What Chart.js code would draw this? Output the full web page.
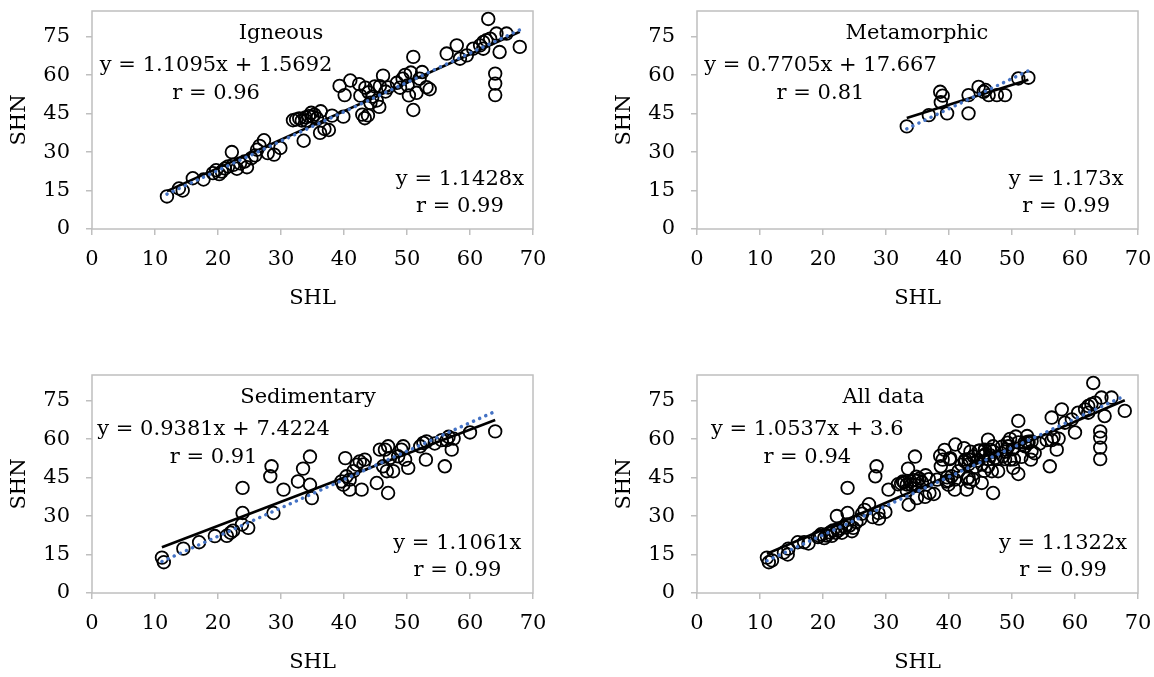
<!DOCTYPE html>
<html>
<head>
<meta charset="utf-8">
<script src="https://cdn.jsdelivr.net/npm/chart.js@4.4.0/dist/chart.umd.min.js"></script>
<style>
  body { margin: 0; background: #fff; width: 1154px; height: 677px; position: relative; overflow: hidden; }
  .panel { position: absolute; width: 549px; height: 313px; }
</style>
</head>
<body>
<div class="panel" style="left:0;top:0"><canvas id="g1" width="549" height="313"></canvas></div>
<div class="panel" style="left:605px;top:0"><canvas id="g2" width="549" height="313"></canvas></div>
<div class="panel" style="left:0;top:364px"><canvas id="g3" width="549" height="313"></canvas></div>
<div class="panel" style="left:605px;top:364px"><canvas id="g4" width="549" height="313"></canvas></div>
<script>
// SHL / SHN readings per rock type
const igneousSHL = [11.9, 13.8, 14.4, 16.0, 17.7, 19.2, 19.7, 20.2, 20.6, 21.1, 21.6, 22.2, 22.4, 23.0, 23.5, 24.2, 24.6, 25.3, 25.9, 26.2,
    26.6, 27.3, 27.9, 28.9, 29.9, 31.9, 32.4, 32.9, 33.3, 33.6, 33.9, 34.0, 34.4, 34.8, 35.0, 35.3, 35.7, 36.3, 36.2, 36.9,
    37.6, 38.1, 39.9, 39.3, 40.1, 41.0, 42.4, 42.6, 42.9, 43.3, 43.8, 43.4, 43.9, 44.2, 44.5, 44.9, 45.2, 45.6, 45.7, 46.2,
    46.6, 47.0, 48.4, 48.9, 49.3, 49.7, 50.1, 50.3, 50.6, 51.0, 51.0, 51.5, 52.0, 52.4, 53.1, 53.6, 56.3, 57.9, 58.4, 59.5,
    60.5, 61.6, 62.1, 62.6, 63.2, 62.1, 62.9, 64.2, 65.8, 64.7, 67.9, 64.0, 64.0, 64.0];
const igneousSHN = [12.7, 15.8, 15.0, 19.8, 19.3, 21.8, 22.9, 21.4, 22.4, 23.6, 24.4, 30.0, 25.0, 23.5, 25.6, 26.3, 24.1, 27.6, 28.7, 30.9,
    32.4, 34.6, 29.6, 29.0, 31.6, 42.4, 42.7, 43.1, 42.3, 34.4, 43.5, 42.2, 44.0, 45.3, 43.8, 44.6, 43.1, 45.9, 37.5, 39.0,
    38.6, 44.2, 43.8, 55.8, 52.2, 57.9, 56.5, 52.0, 44.6, 43.2, 44.3, 55.1, 53.3, 49.2, 51.6, 55.6, 50.1, 47.6, 55.7, 59.8,
    53.6, 55.2, 57.0, 55.1, 58.6, 60.1, 56.0, 52.1, 61.0, 46.4, 67.1, 53.1, 58.6, 61.2, 55.3, 54.5, 68.4, 71.6, 66.4, 67.7,
    70.3, 71.6, 72.9, 73.6, 74.2, 70.3, 81.9, 76.2, 76.2, 69.0, 71.0, 60.6, 56.7, 52.2];

const metamorphicSHL = [33.3, 36.8, 38.6, 39.0, 38.7, 39.7, 43.1, 43.1, 44.7, 45.5, 45.8, 46.3, 47.6, 48.9, 51.0, 52.6];
const metamorphicSHN = [40.0, 44.4, 53.5, 52.0, 49.4, 45.1, 52.2, 45.1, 55.4, 53.5, 54.2, 52.2, 52.2, 52.2, 58.7, 59.0];

const sedimentarySHL = [11.1, 11.4, 14.5, 17.0, 19.5, 21.4, 22.0, 22.4, 23.8, 24.8, 23.9, 23.9, 28.5, 28.3, 28.8, 30.4, 32.7, 33.5, 34.6, 34.6,
    34.9, 39.6, 39.9, 40.4, 40.9, 41.5, 42.0, 40.2, 40.9, 42.8, 42.5, 43.3, 43.1, 45.2, 45.7, 46.2, 46.5, 47.0, 47.3, 47.8,
    48.6, 49.4, 49.7, 50.2, 47.0, 46.8, 49.1, 52.1, 53.1, 54.4, 55.5, 56.6, 57.4, 53.0, 56.0, 57.1, 60.0, 64.0, 52.6, 56.3];
const sedimentarySHN = [13.8, 12.0, 17.3, 19.8, 22.2, 22.3, 23.5, 24.3, 26.7, 25.4, 31.2, 41.0, 49.4, 45.5, 31.2, 40.3, 43.5, 48.5, 53.2, 42.2,
    37.0, 43.5, 42.2, 45.5, 40.3, 47.5, 50.0, 52.6, 44.2, 40.3, 51.3, 52.0, 50.1, 42.9, 55.9, 49.4, 55.9, 57.2, 52.7, 47.5,
    53.3, 57.2, 52.0, 48.8, 39.0, 47.5, 55.9, 57.2, 59.1, 58.3, 59.6, 60.9, 60.2, 52.0, 49.4, 55.9, 62.6, 63.0, 58.5, 59.6];

const allSHL = igneousSHL.concat(metamorphicSHL, sedimentarySHL);
const allSHN = igneousSHN.concat(metamorphicSHN, sedimentarySHN);

const panelNames = ['Igneous', 'Metamorphic', 'Sedimentary', 'All data'];
const fitSlopes = [1.1095, 0.7705, 0.9381, 1.0537];
const fitIntercepts = [1.5692, 17.667, 7.4224, 3.6];
const fitR = ['0.96', '0.81', '0.91', '0.94'];
const originSlopes = [1.1428, 1.173, 1.1061, 1.1322];
const originR = ['0.99', '0.99', '0.99', '0.99'];

const xTickValues = [0, 10, 20, 30, 40, 50, 60, 70];
const yTickValues = [0, 15, 30, 45, 60, 75];

const FONT = 'DejaVu Serif';
const FSIZE = 21;
const GRAY = '#BFBFBF';

// where the texts sit, in axis units
const titleX = [30, 34.9, 34.3, 29.6];
const leftTextX = [19.7, 19.6, 19.3, 17.5];
const rightTextX = [58.4, 58.6, 58.0, 58.1];

const boxPlugin = {
    id: 'box',
    beforeDatasetsDraw(chart) {
        const a = chart.chartArea;
        const ctx = chart.ctx;
        ctx.save();
        ctx.strokeStyle = GRAY;
        ctx.lineWidth = 1.5;
        ctx.strokeRect(a.left, a.top, a.right - a.left, a.bottom - a.top);
        ctx.restore();
    }
};

const textPlugin = {
    id: 'eqText',
    afterDraw(chart) {
        const i = chart.options.plugins.eqText.index;
        const xs = chart.scales.x, ys = chart.scales.y;
        const ctx = chart.ctx;
        ctx.save();
        ctx.fillStyle = '#000';
        ctx.font = FSIZE + 'px "' + FONT + '"';
        ctx.textAlign = 'center';
        ctx.textBaseline = 'alphabetic';
        const put = (t, x, y) => ctx.fillText(t, xs.getPixelForValue(x), ys.getPixelForValue(y));
        put(panelNames[i], titleX[i], 74);
        put('y = ' + fitSlopes[i] + 'x + ' + fitIntercepts[i], leftTextX[i], 61.5);
        put('r = ' + fitR[i], leftTextX[i], 50.5);
        put('y = ' + originSlopes[i] + 'x', rightTextX[i], 17.3);
        put('r = ' + originR[i], rightTextX[i], 6.8);
        ctx.restore();
    }
};

function makeChart(id, i, shl, shn) {
    const pts = shl.map((v, k) => ({ x: v, y: shn[k] }));
    const x0 = Math.min(...shl), x1 = Math.max(...shl);
    const fitLine = [x0, x1].map(v => ({ x: v, y: fitSlopes[i] * v + fitIntercepts[i] }));
    const originLine = [x0, x1].map(v => ({ x: v, y: originSlopes[i] * v }));

    new Chart(document.getElementById(id), {
        type: 'scatter',
        data: {
            datasets: [
                {
                    data: originLine, showLine: true, pointRadius: 0,
                    borderColor: '#4472C4', borderWidth: 3.5, borderDash: [0.1, 6.6], borderCapStyle: 'round',
                    order: 0, clip: false
                },
                {
                    data: fitLine, showLine: true, pointRadius: 0,
                    borderColor: '#000', borderWidth: 2.6, order: 1, clip: false
                },
                {
                    data: pts, pointRadius: 6.3, pointStyle: 'circle',
                    borderColor: '#000', borderWidth: 1.8, backgroundColor: 'rgba(0,0,0,0)',
                    order: 2, clip: false
                }
            ]
        },
        options: {
            responsive: false,
            animation: false,
            events: [],
            layout: { padding: { left: 0, right: 16, top: 11, bottom: 0 } },
            scales: {
                x: {
                    type: 'linear', min: 0, max: 70,
                    afterFit: s => { s.height = 84; s.paddingLeft = 0; s.paddingRight = 0; },
                    afterBuildTicks: s => { s.ticks = xTickValues.map(v => ({ value: v })); },
                    border: { display: false },
                    grid: { drawOnChartArea: false, drawTicks: true, tickLength: 6, color: GRAY, lineWidth: 1.5 },
                    ticks: { color: '#000', padding: 12, maxRotation: 0, font: { family: FONT, size: FSIZE } },
                    title: { display: true, text: 'SHL', color: '#000', padding: { top: 4, bottom: 2 }, font: { family: FONT, size: FSIZE } }
                },
                y: {
                    type: 'linear', min: 0, max: 85,
                    afterFit: s => { s.width = 92; s.paddingTop = 0; s.paddingBottom = 0; },
                    afterBuildTicks: s => { s.ticks = yTickValues.map(v => ({ value: v })); },
                    border: { display: false },
                    grid: { drawOnChartArea: false, drawTicks: true, tickLength: 6, color: GRAY, lineWidth: 1.5 },
                    ticks: { color: '#000', padding: 16, font: { family: FONT, size: FSIZE } },
                    title: { display: true, text: 'SHN', color: '#000', padding: { top: 7, bottom: 0 }, font: { family: FONT, size: FSIZE } }
                }
            },
            plugins: {
                legend: { display: false },
                tooltip: { enabled: false },
                eqText: { index: i }
            }
        },
        plugins: [boxPlugin, textPlugin]
    });
}

makeChart('g1', 0, igneousSHL, igneousSHN);
makeChart('g2', 1, metamorphicSHL, metamorphicSHN);
makeChart('g3', 2, sedimentarySHL, sedimentarySHN);
makeChart('g4', 3, allSHL, allSHN);
</script>
</body>
</html>
